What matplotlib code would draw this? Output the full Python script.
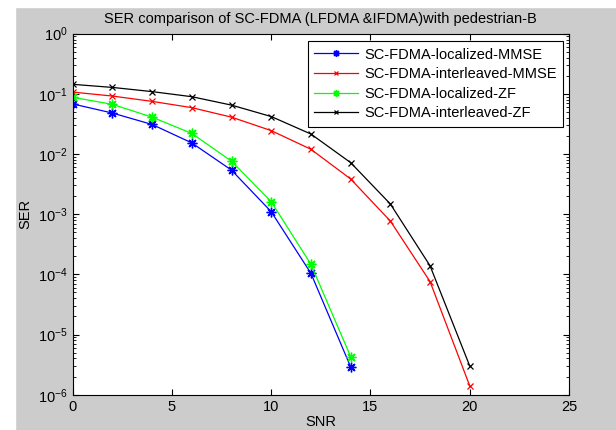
import numpy as np
import matplotlib
matplotlib.use('Agg')
import matplotlib.pyplot as plt
from matplotlib.patches import Rectangle

plt.rcParams['font.family'] = ['Liberation Sans', 'DejaVu Sans']

snr = [0, 2, 4, 6, 8, 10, 12, 14, 16, 18, 20]
loc_mmse = [0.068, 0.048, 0.031, 0.0153, 0.0054, 0.0011, 1.04e-4, 2.9e-6]
int_mmse = [0.107, 0.092, 0.075, 0.059, 0.041, 0.0245, 0.012, 0.00385, 7.7e-4, 7.6e-5, 1.4e-6]
loc_zf = [0.0877, 0.067, 0.041, 0.022, 0.0076, 0.00161, 1.47e-4, 4.3e-6]
int_zf = [0.144, 0.128, 0.109, 0.0897, 0.065, 0.042, 0.0215, 0.0072, 0.00148, 1.39e-4, 3.0e-6]
labels = ['SC-FDMA-localized-MMSE', 'SC-FDMA-interleaved-MMSE',
          'SC-FDMA-localized-ZF', 'SC-FDMA-interleaved-ZF']

W, H = 616, 430
fs = 10.5
fig = plt.figure(figsize=(W/100, H/100), dpi=100, facecolor='#cccccc')
# white strips at left and top like the screenshot
fig.patches.append(Rectangle((0, 0), 15/W, 1, transform=fig.transFigure, color='white', zorder=-1))
fig.patches.append(Rectangle((0, 1 - 7/H), 1, 7/H, transform=fig.transFigure, color='white', zorder=-1))

ax = fig.add_axes([72.7/W, 1 - 394.7/H, (569 - 72.7)/W, (394.7 - 33.7)/H])
ax.set_facecolor('white')

star = (8, 2, 0)
ax.semilogy(snr[:len(loc_mmse)], loc_mmse, '-', marker=star, color='blue', lw=0.9, ms=7, mew=1, label=labels[0])
ax.semilogy(snr, int_mmse, 'r-x', lw=0.9, ms=5, mew=0.9, label=labels[1])
ax.semilogy(snr[:len(loc_zf)], loc_zf, '-', marker=star, color='#00ff00', lw=0.9, ms=7, mew=1, label=labels[2])
ax.semilogy(snr, int_zf, 'k-x', lw=0.9, ms=5, mew=0.9, label=labels[3])

ax.set_xlim(0, 25)
ax.set_ylim(1e-6, 1)
ax.set_xticks([0, 5, 10, 15, 20, 25])
ax.set_yticks([10.0**k for k in range(-6, 1)])
ax.tick_params(which='both', direction='in', top=True, right=True, labelsize=fs)
ax.tick_params(which='major', length=4)
ax.tick_params(which='minor', length=2.5)
for s in ax.spines.values():
    s.set_linewidth(0.8)

ax.set_title('SER comparison of SC-FDMA (LFDMA &IFDMA)with pedestrian-B', fontsize=fs, pad=8)
ax.set_xlabel('SNR', fontsize=fs, labelpad=1)
ax.set_ylabel('SER', fontsize=fs, labelpad=4)

leg = ax.legend(loc='upper right', bbox_to_anchor=(563/W, 1 - 41/H), bbox_transform=fig.transFigure,
                borderaxespad=0, fontsize=fs, fancybox=False, framealpha=1, edgecolor='black',
                borderpad=0.45, labelspacing=0.38, handlelength=3.0, handletextpad=0.4, markerscale=0.7)
leg.get_frame().set_linewidth(0.8)

fig.savefig('out.png', dpi=100, facecolor=fig.get_facecolor())
